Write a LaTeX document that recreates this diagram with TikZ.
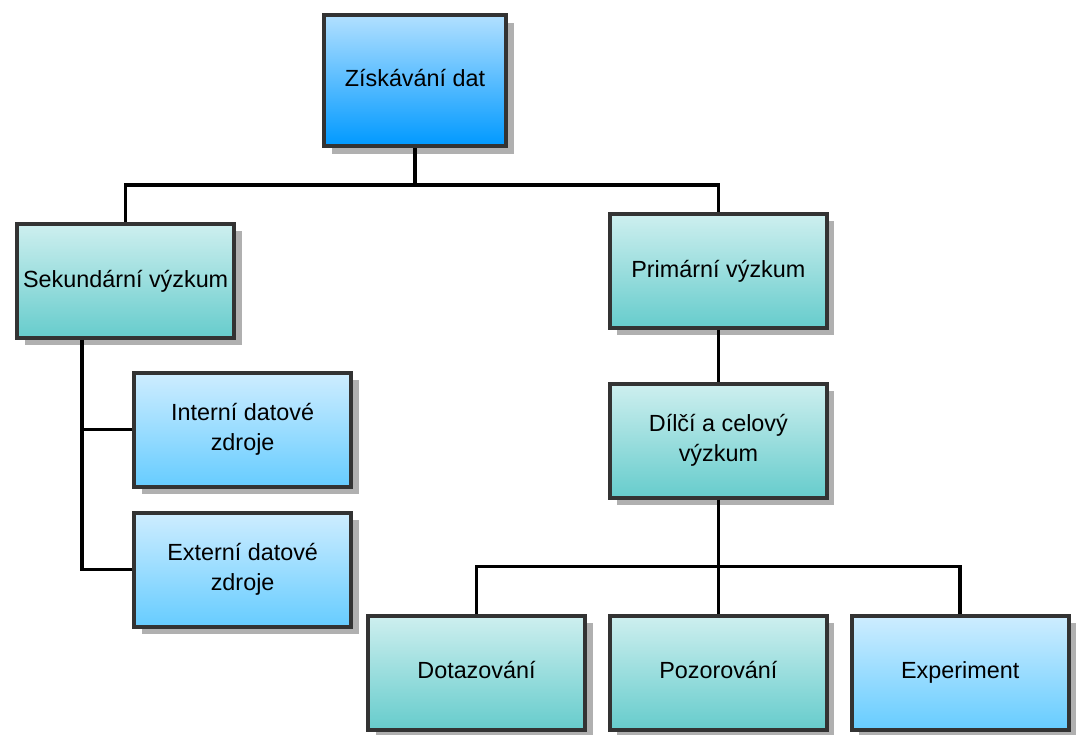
\documentclass[tikz,border=0pt]{standalone}
\usepackage{fontspec}
\setmainfont{Liberation Sans}
\usepackage{tikz}
\usetikzlibrary{positioning, shadows}

\definecolor{edge}{RGB}{51,51,51}
\definecolor{shadowgray}{RGB}{176,176,176}
\definecolor{roottop}{RGB}{178,224,255}
\definecolor{rootbot}{RGB}{0,153,255}
\definecolor{tealtop}{RGB}{206,239,239}
\definecolor{tealbot}{RGB}{102,204,204}
\definecolor{skytop}{RGB}{206,237,255}
\definecolor{skybot}{RGB}{102,204,255}

\begin{document}
\begin{tikzpicture}[
    node distance=1cm,
    block/.style={rectangle, draw=edge, line width=2.2pt, minimum width=4.34cm, minimum height=2.28cm, inner sep=2pt, align=center, font=\fontsize{13.3}{17}\selectfont, drop shadow={shadow xshift=0.15cm, shadow yshift=-0.15cm, fill=shadowgray, opacity=1}},
    oneline/.style={text height=0.93em, text depth=0.21em},
    rootblock/.style={block, oneline, top color=roottop, bottom color=rootbot, minimum width=3.64cm, minimum height=2.62cm},
    tealblock/.style={block, top color=tealtop, bottom color=tealbot},
    skyblock/.style={block, top color=skytop, bottom color=skybot},
    link/.style={draw=black, line width=2pt, line join=miter}
]
\useasboundingbox (0,0) rectangle (21.58,-14.68);

% Root
\node[rootblock] (zisk) at (8.30,-1.61) {Získávání dat};

% Two kinds of research
\node[tealblock, oneline, below left=1.48cm and 1.72cm of zisk] (sek) {Sekundární výzkum};
\node[tealblock, oneline, below right=1.28cm and 2cm of zisk] (prim) {Primární výzkum};

% Secondary sources
\node[skyblock, below right=0.62cm and 2.34cm of sek.south west] (int) {Interní datové\\zdroje};
\node[skyblock, below=0.44cm of int] (ext) {Externí datové\\zdroje};

% Primary research
\node[tealblock, below=1.04cm of prim] (dilci) {Dílčí a celový\\výzkum};
\node[tealblock, oneline, below=2.28cm of dilci] (poz) {Pozorování};
\node[tealblock, oneline, left=0.42cm of poz] (dot) {Dotazování};
\node[skyblock, oneline, right=0.42cm of poz] (exp) {Experiment};

% Junctions
\coordinate[below=0.74cm of zisk.south] (ziskjoin);
\coordinate (sektrunk) at ([xshift=1.34cm]sek.south west);
\coordinate[below=1.34cm of dilci.south] (dilcijoin);

% Links
\draw[link] (zisk.south) -- (ziskjoin) -| (sek.north);
\draw[link] (ziskjoin) -| (prim.north);
\draw[link] (sektrunk) |- (int);
\draw[link] (sektrunk) |- (ext);
\draw[link] (prim) -- (dilci);
\draw[link] (dilci.south) -- (dilcijoin) -| (dot.north);
\draw[link] (dilcijoin) -- (poz.north);
\draw[link] (dilcijoin) -| (exp.north);

\end{tikzpicture}
\end{document}
